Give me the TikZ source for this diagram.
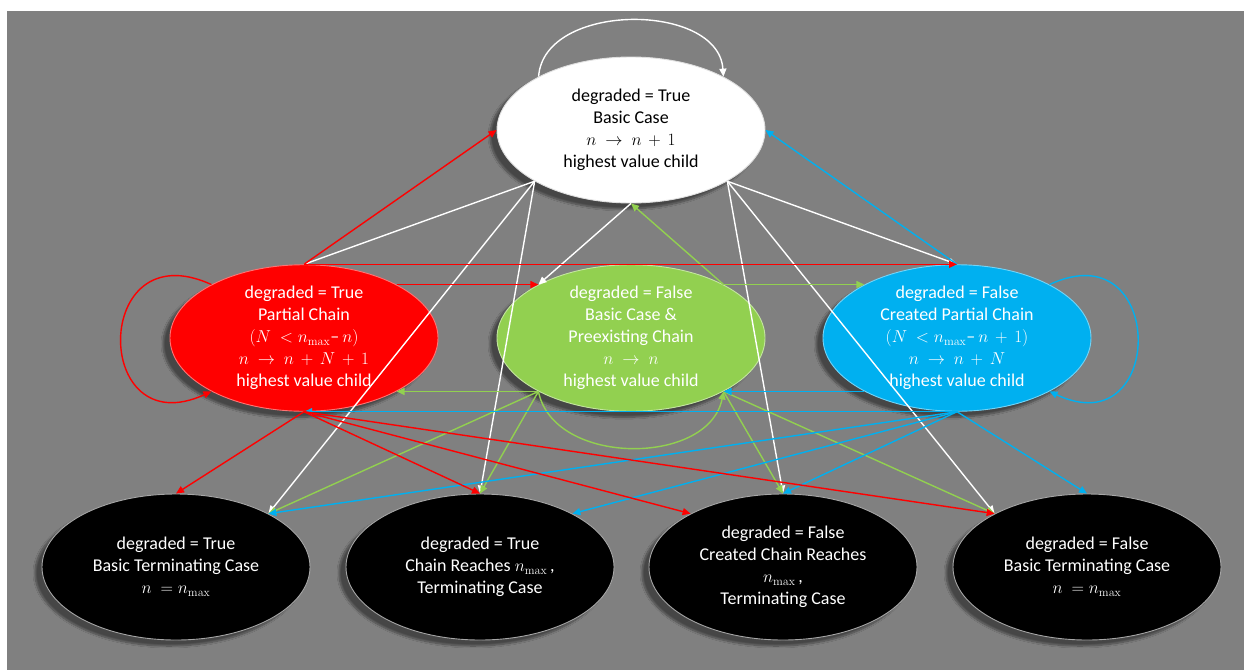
\documentclass[tikz,border=0pt]{standalone}
\usepackage[no-math]{fontspec}
\setmainfont{Carlito}
\usetikzlibrary{arrows.meta,shapes.geometric,shadows.blur}
\definecolor{bgray}{HTML}{808080}
\definecolor{cred}{HTML}{FF0000}
\definecolor{cgreen}{HTML}{92D050}
\definecolor{cblue}{HTML}{00B0F0}
\begin{document}
\begin{tikzpicture}[x=1pt,y=-1pt,
  state/.style={ellipse, minimum width=268pt, minimum height=146pt, inner sep=0pt,
    align=center, font=\fontsize{18}{22}\selectfont, line width=0.9pt,
    blur shadow={shadow xshift=-7pt,shadow yshift=-6pt,shadow blur steps=10,shadow opacity=45}},
  wstate/.style={state, fill=white, draw=gray!25, text=black},
  rstate/.style={state, fill=cred, draw=cred!55!white, text=white},
  gstate/.style={state, fill=cgreen, draw=cgreen!55!white, text=white},
  bstate/.style={state, fill=cblue, draw=cblue!55!white, text=white},
  kstate/.style={state, fill=black, draw=gray!70, text=white},
  link/.style={line width=1.4pt, -{Triangle[length=8pt,width=7pt]}},
  plain/.style={line width=1.4pt},
]
\useasboundingbox (0,0) rectangle (1244,670);
\fill[white] (0,0) rectangle (1244,670);
\fill[bgray] (7,11) rectangle (1244,670);

% nodes
\node[wstate] (T) at (631,130) {degraded = True\\Basic Case\\$n\ \rightarrow\ n\,+\,1$\\highest value child};
\node[rstate] (R) at (304,338) {degraded = True\\Partial Chain\\$(N\ <n_{\max}$–\,$n)$\\$n\ \rightarrow\ n\,+\,N\,+\,1$\\highest value child};
\node[gstate] (G) at (631,338) {degraded = False\\Basic Case \&\\Preexisting Chain\\$n\ \rightarrow\ n$\\highest value child};
\node[bstate] (B) at (957,338) {degraded = False\\Created Partial Chain\\$(N\ <n_{\max}$–\,$n\,+\,1)$\\$n\ \rightarrow\ n\,+\,N$\\highest value child};
\node[kstate] (K1) at (176,567) {degraded = True\\Basic Terminating Case\\$n\ =n_{\max}$};
\node[kstate] (K2) at (480,567) {degraded = True\\Chain Reaches $n_{\max}$\,,\\Terminating Case};
\node[kstate] (K3) at (783,567) {degraded = False\\Created Chain Reaches\\$n_{\max}$\,,\\Terminating Case};
\node[kstate] (K4) at (1087,567) {degraded = False\\Basic Terminating Case\\$n\ =n_{\max}$};

% white edges (from T)
\draw[link,white] (T.150) .. controls +(5,-75) and +(-5,-75) .. (T.30);
\draw[plain,white] (T.208) -- (R.90);
\draw[link,white] (T.208) -- (K1.30);
\draw[link,white] (T.208) -- (K2.90);
\draw[link,white] (T.270) -- (G.150);
\draw[link,white] (T.332) -- (B.90);
\draw[link,white] (T.332) -- (K3.90);
\draw[link,white] (T.332) -- (K4.150);

% green edges (from G)
\draw[link,cgreen] (G.210) .. controls +(15,75) and +(-15,75) .. (G.330);
\draw[link,cgreen] (G.210) -- (R.330);
\draw[link,cgreen] (G.210) -- (K1.30);
\draw[link,cgreen] (G.210) -- (K2.90);
\draw[link,cgreen] (G.330) -- (K3.90);
\draw[link,cgreen] (G.330) -- (K4.150);
\draw[link,cgreen] (G.30) -- (B.150);
\draw[link,cgreen] (G.30) -- (T.270);

% blue edges (from B)
\draw[link,cblue] (B.30) .. controls +(117,-55) and +(117,55) .. (B.330);
\draw[link,cblue] (B.90) -- (T.0);
\draw[link,cblue] (B.210) -- (G.330);
\draw[link,cblue] (B.270) -- (R.270);
\draw[link,cblue] (B.270) -- (K1.30);
\draw[link,cblue] (B.270) -- (K2.30);
\draw[link,cblue] (B.270) -- (K3.90);
\draw[link,cblue] (B.270) -- (K4.90);

% red edges (from R)
\draw[link,cred] (R.150) .. controls +(-120,-55) and +(-120,55) .. (R.210);
\draw[link,cred] (R.90) -- (T.180);
\draw[link,cred] (R.90) -- (B.90);
\draw[link,cred] (R.30) -- (G.150);
\draw[link,cred] (R.270) -- (K1.90);
\draw[link,cred] (R.270) -- (K2.90);
\draw[link,cred] (R.270) -- (K3.150);
\draw[link,cred] (R.270) -- (K4.150);
\end{tikzpicture}
\end{document}
